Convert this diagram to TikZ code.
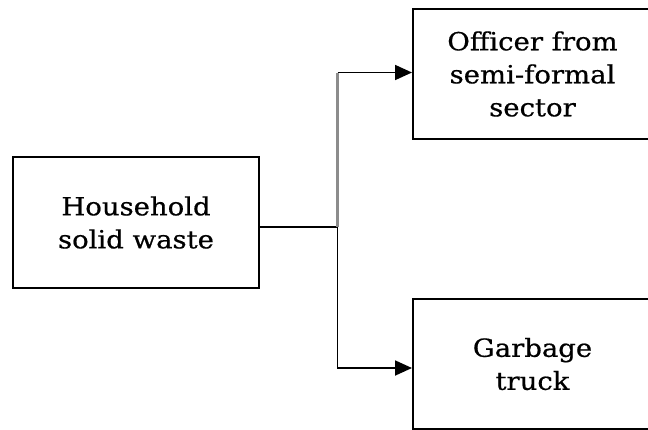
\documentclass[tikz,border=0pt]{standalone}
\usepackage{fontspec}
\setmainfont{DejaVu Serif}[FakeStretch=1.1,FakeBold=0.6]
\usetikzlibrary{arrows.meta}
\begin{document}
\begin{tikzpicture}[x=1pt,y=1pt,
  box/.style={draw=black,line width=2pt,align=center,inner sep=0pt,
    font=\fontsize{25}{33}\selectfont},
  conn/.style={draw=black,line width=1.8pt},
  tip/.style={-{Triangle[length=17pt,width=15pt]}}]
\useasboundingbox (0,0) rectangle (648,-429);
\node[box,minimum width=246pt,minimum height=131pt] (h) at (136,-222.5) {Household\\solid waste};
\node[box,minimum width=239pt,minimum height=130pt] (o) at (532.5,-74) {Officer from\\semi-formal\\sector};
\node[box,minimum width=239pt,minimum height=130pt] (g) at (532.5,-364) {Garbage\\truck};
\coordinate (j) at (337.5,-227);
\draw[conn] (h.east |- j) -- (j);
\draw[conn,black!45,line width=2.4pt] (j) -- (j |- 0,-72.5);
\draw[conn,tip] (j |- 0,-72.5) -- (o.west |- 0,-72.5);
\draw[conn,tip] (j) -- (j |- 0,-368) -- (g.west |- 0,-368);
\end{tikzpicture}
\end{document}
